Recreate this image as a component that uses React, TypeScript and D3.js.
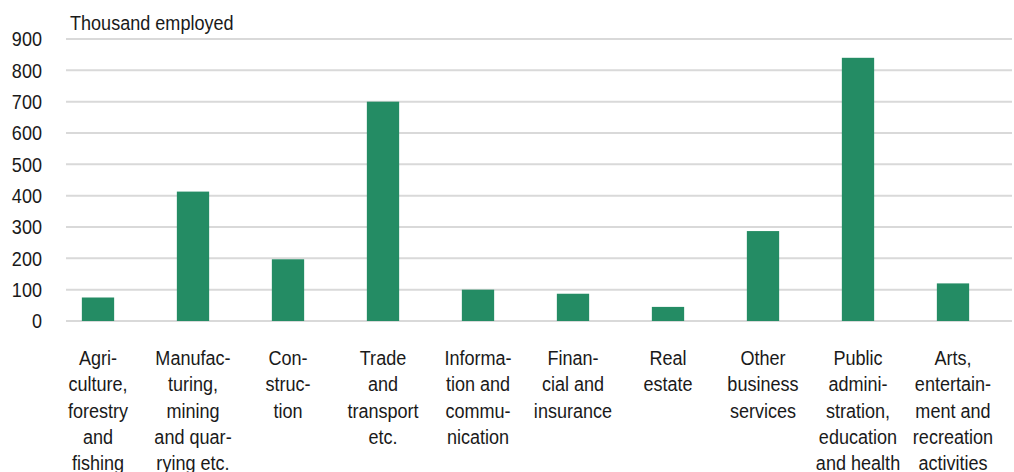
import { useEffect, useRef } from "react";
import * as d3 from "d3";

const categories = [
  ["Agri-", "culture,", "forestry", "and", "fishing"],
  ["Manufac-", "turing,", "mining", "and quar-", "rying etc."],
  ["Con-", "struc-", "tion"],
  ["Trade", "and", "transport", "etc."],
  ["Informa-", "tion and", "commu-", "nication"],
  ["Finan-", "cial and", "insurance"],
  ["Real", "estate"],
  ["Other", "business", "services"],
  ["Public", "admini-", "stration,", "education", "and health"],
  ["Arts,", "entertain-", "ment and", "recreation", "activities"],
];
const employed = [75, 413, 197, 700, 100, 87, 45, 287, 840, 120];
const yTicks = [0, 100, 200, 300, 400, 500, 600, 700, 800, 900];
const yTitle = "Thousand employed";

const FONT = "'Liberation Sans', Arial, sans-serif";
const SQUEEZE = 0.86; // condensed look

export default function App() {
  const ref = useRef<SVGSVGElement | null>(null);

  useEffect(() => {
    if (!ref.current) return;
    const svg = d3.select(ref.current);
    svg.selectAll("*").remove();

    const x = d3
      .scaleBand<number>()
      .domain(d3.range(categories.length))
      .range([50.5, 1000.5])
      .paddingInner(0.66)
      .paddingOuter(0.33);

    const y = d3.scaleLinear().domain([0, 900]).range([321, 39]);

    // grid
    svg
      .append("g")
      .selectAll("line")
      .data(yTicks)
      .join("line")
      .attr("x1", 66)
      .attr("x2", 1012)
      .attr("y1", (d) => y(d))
      .attr("y2", (d) => y(d))
      .attr("stroke", "#d9d9d9")
      .attr("stroke-width", 2);

    // tick labels
    svg
      .append("g")
      .selectAll("text")
      .data(yTicks)
      .join("text")
      .attr("transform", (d) => `translate(42,${y(d)}) scale(${SQUEEZE},1)`)
      .attr("dy", "0.35em")
      .attr("text-anchor", "end")
      .attr("font-family", FONT)
      .attr("font-size", 21)
      .attr("fill", "#1a1a1a")
      .text((d) => d);

    svg
      .append("text")
      .attr("transform", `translate(70,30) scale(${SQUEEZE},1)`)
      .attr("font-family", FONT)
      .attr("font-size", 21)
      .attr("fill", "#1a1a1a")
      .text(yTitle);

    // bars
    svg
      .append("g")
      .selectAll("rect")
      .data(employed)
      .join("rect")
      .attr("x", (_, i) => x(i)!)
      .attr("width", x.bandwidth())
      .attr("y", (d) => y(d))
      .attr("height", (d) => y(0) - y(d))
      .attr("fill", "#248c64");

    // category labels
    const labels = svg
      .append("g")
      .selectAll("text")
      .data(categories)
      .join("text")
      .attr(
        "transform",
        (_, i) => `translate(${x(i)! + x.bandwidth() / 2},365) scale(${SQUEEZE},1)`
      )
      .attr("text-anchor", "middle")
      .attr("font-family", FONT)
      .attr("font-size", 21)
      .attr("fill", "#1a1a1a");

    labels
      .selectAll("tspan")
      .data((d) => d)
      .join("tspan")
      .attr("x", 0)
      .attr("dy", (_, j) => (j === 0 ? 0 : 26.3))
      .text((d) => d);
  }, []);

  return (
    <svg
      ref={ref}
      width={1014}
      height={472}
      style={{ position: "absolute", left: 0, top: 0, background: "#fff" }}
    />
  );
}
